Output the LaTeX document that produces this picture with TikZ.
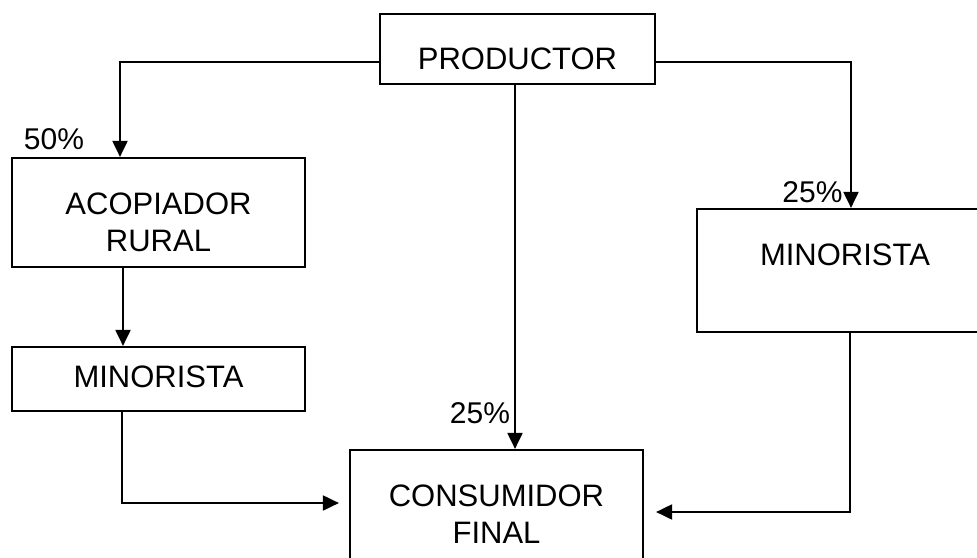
\documentclass[tikz,border=0pt]{standalone}
\usepackage{fontspec}
\setmainfont{Liberation Sans}
\usetikzlibrary{arrows.meta,calc}
\tikzset{
  boxnode/.style={draw, line width=2.2pt, inner sep=0pt},
  boxtext/.style={font=\fontsize{31}{37.5}\selectfont, align=center, inner sep=0pt},
  pct/.style={font=\fontsize{30}{36}\selectfont, inner sep=0pt},
  flow/.style={line width=2pt, -{Triangle[length=16pt,width=15pt]}},
}
\begin{document}
\begin{tikzpicture}[x=1pt,y=-1pt]
\useasboundingbox[fill=white] (0,0) rectangle (977,557);
% boxes
\node[boxnode, minimum width=275pt, minimum height=70pt,
      label={[boxtext,yshift=-10pt]center:PRODUCTOR}] (prod) at (517.5,49) {};
\node[boxnode, minimum width=293pt, minimum height=109pt,
      label={[boxtext,yshift=-10pt]center:ACOPIADOR\\RURAL}] (acop) at (158.5,212.5) {};
\node[boxnode, minimum width=293pt, minimum height=64pt,
      label={[boxtext,yshift=2.5pt]center:MINORISTA}] (minL) at (158.5,379) {};
\node[boxnode, minimum width=296pt, minimum height=123pt,
      label={[boxtext,yshift=15.5pt]center:MINORISTA}] (minR) at (845,270.5) {};
\node[boxnode, minimum width=293pt, minimum height=120pt,
      label={[boxtext,yshift=-4pt]center:CONSUMIDOR\\FINAL}] (cons) at (496.5,510) {};
% connectors
\draw[flow] ([yshift=-13pt]prod.west) -| ([xshift=-38.5pt]acop.north);
\draw[flow] ([yshift=-13pt]prod.east) -| ([xshift=6pt]minR.north);
\draw[flow] ([xshift=-2.5pt]prod.south) -- ([xshift=18.5pt]cons.north);
\draw[flow] ([xshift=-35.5pt]acop.south) -- ([xshift=-35.5pt]minL.north);
\draw[flow, shorten >=10pt] ([xshift=-36.5pt]minL.south) |- ([yshift=7pt]cons.west);
\draw[flow, shorten >=12pt] ([xshift=5pt]minR.south) |- ([yshift=-2pt]cons.east);
% percentages
\node[pct] (p50) at (54,139) {50\%};
\node[pct] (p25r) at (812.5,192) {25\%};
\node[pct] (p25m) at (480,413) {25\%};
\end{tikzpicture}
\end{document}
